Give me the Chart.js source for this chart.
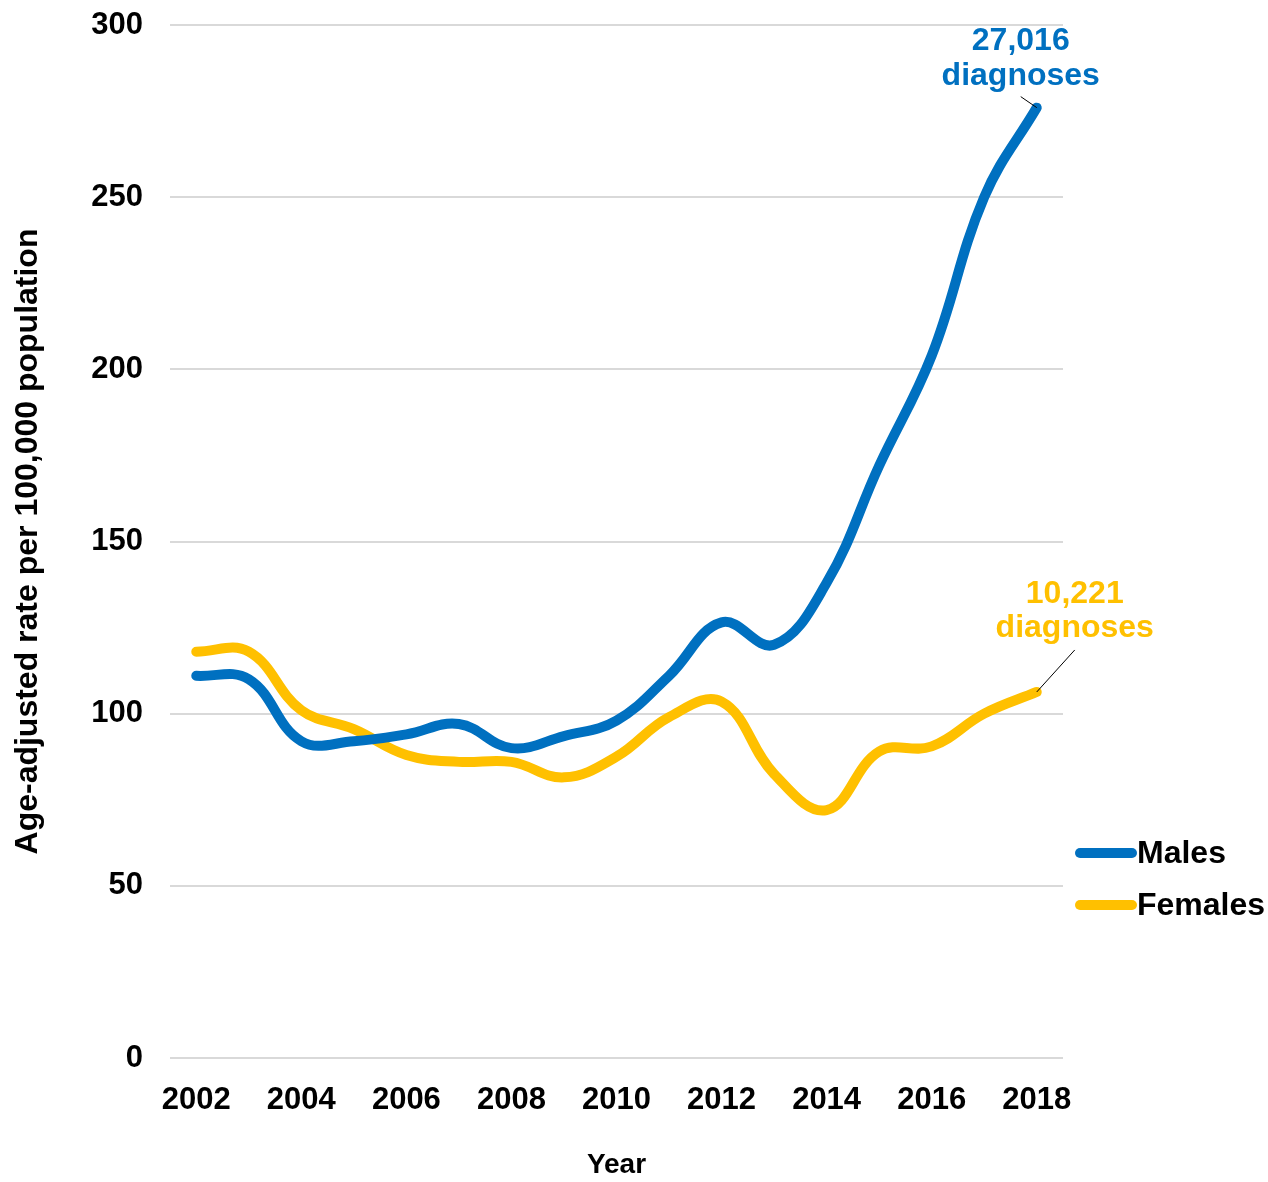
<!DOCTYPE html>
<html>
<head>
<meta charset="utf-8">
<script src="https://cdn.jsdelivr.net/npm/chart.js@4.4.1/dist/chart.umd.min.js"></script>
<style>
  body { margin: 0; background: #fff; }
</style>
</head>
<body>
<canvas id="grafico" width="1268" height="1182"></canvas>
<script>
const years = ["2002", "2003", "2004", "2005", "2006", "2007", "2008", "2009", "2010",
               "2011", "2012", "2013", "2014", "2015", "2016", "2017", "2018"];
const males = [111, 110, 92, 92, 94, 97, 90, 93.5, 98, 111, 126.5, 120, 138, 172, 204, 250, 276];
const females = [118, 118, 101, 95.5, 88, 86, 86, 81.5, 87.5, 99, 103.5, 82.5, 72, 89, 90.5, 100, 106.3];
const yTicks = [0, 50, 100, 150, 200, 250, 300];
const notes = ["27,016 diagnoses", "10,221 diagnoses"];

const BLUE = "#0070C0";
const GOLD = "#FFC000";
const FONT = "'Liberation Sans', Arial, sans-serif";

// legend + leader-line notes drawn on top of the chart
const extras = {
    id: "extras",
    afterDraw(chart) {
        const c = chart.ctx;
        const area = chart.chartArea;
        c.save();
        c.font = "bold 32px " + FONT;

        // notes at the last point of each line
        const m = chart.getDatasetMeta(0).data[years.length - 1];
        const f = chart.getDatasetMeta(1).data[years.length - 1];
        c.textAlign = "center";
        c.textBaseline = "alphabetic";
        const mt = notes[0].split(" ");
        c.fillStyle = BLUE;
        c.fillText(mt[0], m.x - 16, m.y - 58);
        c.fillText(mt[1], m.x - 16, m.y - 23);
        const ft = notes[1].split(" ");
        c.fillStyle = GOLD;
        c.fillText(ft[0], f.x + 38, f.y - 89);
        c.fillText(ft[1], f.x + 38, f.y - 55);

        c.strokeStyle = "#000";
        c.lineWidth = 1;
        c.beginPath();
        c.moveTo(m.x - 16, m.y - 11);
        c.lineTo(m.x, m.y);
        c.moveTo(f.x + 38, f.y - 42);
        c.lineTo(f.x, f.y);
        c.stroke();

        // legend
        const items = [["Males", BLUE, 853], ["Females", GOLD, 905]];
        c.textAlign = "left";
        c.textBaseline = "middle";
        c.lineCap = "round";
        items.forEach(([name, col, y]) => {
            c.strokeStyle = col;
            c.lineWidth = 10;
            c.beginPath();
            c.moveTo(area.right + 17, y);
            c.lineTo(area.right + 69, y);
            c.stroke();
            c.fillStyle = "#000";
            c.fillText(name, area.right + 74, y + 1);
        });
        c.restore();
    }
};

new Chart(document.getElementById("grafico"), {
    type: "line",
    data: {
        labels: years,
        datasets: [
            { label: "Males", data: males, borderColor: BLUE, backgroundColor: BLUE },
            { label: "Females", data: females, borderColor: GOLD, backgroundColor: GOLD }
        ]
    },
    options: {
        responsive: false,
        animation: false,
        layout: { padding: { left: 0, right: 205, top: 25, bottom: 0 } },
        elements: {
            line: { borderWidth: 10, tension: 0.4, borderCapStyle: "round", borderJoinStyle: "round" },
            point: { radius: 0, hoverRadius: 0 }
        },
        plugins: {
            legend: { display: false },
            tooltip: { enabled: false }
        },
        scales: {
            x: {
                offset: true,
                grid: { display: false, drawTicks: false },
                border: { display: false },
                ticks: {
                    autoSkip: false,
                    maxRotation: 0,
                    padding: 24,
                    color: "#000",
                    font: { family: FONT, size: 31, weight: "bold" },
                    callback: (v, i) => (i % 2 === 0 ? years[i] : "")
                },
                title: {
                    display: true,
                    text: "Year",
                    color: "#000",
                    padding: { top: 0, bottom: 0 },
                    font: { family: FONT, size: 28, weight: "bold" }
                },
                afterFit: s => { s.height = 124; }
            },
            y: {
                min: 0,
                max: 300,
                afterBuildTicks: s => { s.ticks = yTicks.map(v => ({ value: v })); },
                grid: { color: "#D9D9D9", lineWidth: 2, drawTicks: false },
                border: { display: false },
                ticks: {
                    padding: 27,
                    color: "#000",
                    font: { family: FONT, size: 31, weight: "bold" }
                },
                title: {
                    display: true,
                    text: "Age-adjusted rate per 100,000 population",
                    color: "#000",
                    padding: { top: 9, bottom: 0 },
                    font: { family: FONT, size: 32, weight: "bold" }
                },
                afterFit: s => {
                    s.width = 170;
                    s.paddingTop = 0;
                    s.paddingBottom = 0;
                }
            }
        }
    },
    plugins: [extras]
});
</script>
</body>
</html>
